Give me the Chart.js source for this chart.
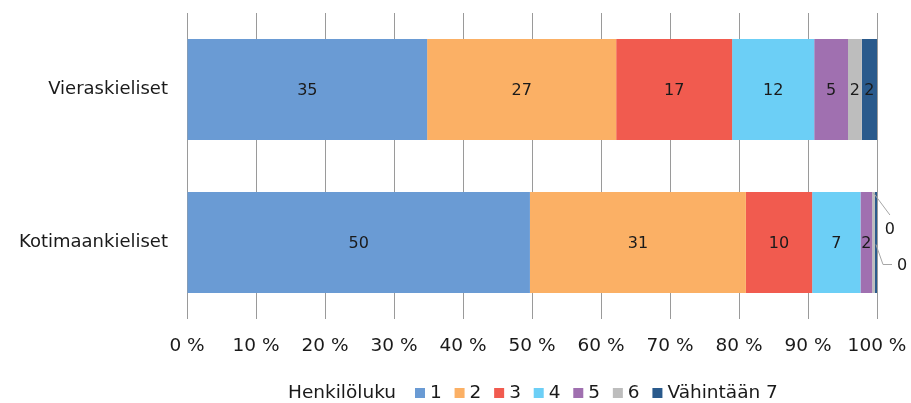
<!DOCTYPE html>
<html><head><meta charset="utf-8">
<script src="https://cdn.jsdelivr.net/npm/chart.js@4/dist/chart.umd.min.js"></script>
<style>html,body{margin:0;padding:0;background:#fff}#wrap{width:911px;height:403px}</style>
</head><body><div id="wrap"><canvas id="c" width="911" height="403"></canvas></div>
<script>
const categories = ['Vieraskieliset', 'Kotimaankieliset'];
const seriesNames = ['1', '2', '3', '4', '5', '6', 'Vähintään 7'];
const s1 = [34.8, 49.7];
const s2 = [27.4, 31.3];
const s3 = [16.8, 9.6];
const s4 = [11.9, 7.0];
const s5 = [4.9, 1.7];
const s6 = [2.0, 0.4];
const s7 = [2.2, 0.3];
const labels1 = [35, 50];
const labels2 = [27, 31];
const labels3 = [17, 10];
const labels4 = [12, 7];
const labels5 = [5, 2];
const labels6 = [2, 0];
const labels7 = [2, 0];
const xTicks = [0, 10, 20, 30, 40, 50, 60, 70, 80, 90, 100];
const legendTitle = 'Henkilöluku';

const colors = ['#6a9bd4', '#fbb065', '#f15b4f', '#6ccff6', '#a070b0', '#bdbdbd', '#2a5a8c'];
const seriesData = [s1, s2, s3, s4, s5, s6, s7];
const seriesLabels = [labels1, labels2, labels3, labels4, labels5, labels6, labels7];
const FONT = '"DejaVu Sans", Verdana, sans-serif';

const datasets = seriesData.map((d, i) => ({
  label: seriesNames[i], data: d, backgroundColor: colors[i],
  borderWidth: 0, barPercentage: 0.66, categoryPercentage: 1.0, labelsText: seriesLabels[i]
}));

const labelPlugin = {
  id: 'labels',
  afterDatasetsDraw(chart) {
    const ctx = chart.ctx;
    ctx.save();
    ctx.font = '16px ' + FONT;
    ctx.fillStyle = '#1a1a1a';
    ctx.textAlign = 'center';
    ctx.textBaseline = 'middle';
    let outsideCount = 0;
    chart.data.datasets.forEach((ds, di) => {
      const meta = chart.getDatasetMeta(di);
      meta.data.forEach((el, i) => {
        const v = ds.data[i];
        const txt = String(ds.labelsText[i]);
        const x0 = el.base, x1 = el.x;
        if (v >= 1) {
          ctx.fillText(txt, (x0 + x1) / 2, el.y + 1);
        } else {
          const top = el.y - el.height / 2;
          ctx.strokeStyle = '#a6a6a6';
          ctx.lineWidth = 1;
          ctx.beginPath();
          if (outsideCount === 0) {
            ctx.moveTo((x0 + x1) / 2, top + 1);
            ctx.lineTo(x1 + 15, top + 23);
            ctx.stroke();
            ctx.fillText(txt, x1 + 15, top + 38);
          } else {
            ctx.moveTo((x0 + x1) / 2, el.y + 2);
            ctx.lineTo(x1 + 6, el.y + 22);
            ctx.lineTo(x1 + 15, el.y + 22);
            ctx.stroke();
            ctx.fillText(txt, x1 + 25, el.y + 23);
          }
          outsideCount++;
        }
      });
    });
    ctx.restore();
  }
};

const legendPlugin = {
  id: 'customLegend',
  afterDraw(chart) {
    const ctx = chart.ctx;
    ctx.save();
    ctx.font = '18.5px ' + FONT;
    ctx.fillStyle = '#1a1a1a';
    ctx.textBaseline = 'middle';
    ctx.textAlign = 'left';
    const y = 393;
    let x = 288;
    ctx.fillText(legendTitle, x, y);
    x = 415;
    chart.data.datasets.forEach((ds) => {
      ctx.fillStyle = ds.backgroundColor;
      ctx.fillRect(x, y - 5, 10, 10);
      ctx.fillStyle = '#1a1a1a';
      ctx.fillText(ds.label, x + 15, y);
      x += 15 + ctx.measureText(ds.label).width + 12.8;
    });
    ctx.restore();
  }
};

new Chart(document.getElementById('c'), {
  type: 'bar',
  data: { labels: categories, datasets },
  options: {
    indexAxis: 'y',
    responsive: false,
    animation: false,
    devicePixelRatio: 1,
    layout: { padding: { top: 13, right: 34, bottom: 0, left: 0 } },
    plugins: { legend: { display: false }, tooltip: { enabled: false } },
    scales: {
      x: {
        stacked: true, min: 0, max: 100,
        afterBuildTicks(axis) { axis.ticks = xTicks.map(v => ({ value: v })); },
        afterFit(axis) { axis.height = 84; axis.paddingLeft = 0; axis.paddingRight = 0; },
        grid: { color: '#9a9a9a', lineWidth: 1, drawTicks: false },
        border: { display: false },
        ticks: { padding: 16, color: '#1a1a1a', font: { family: FONT, size: 18.5 }, callback: v => v + ' %', maxRotation: 0, autoSkip: false }
      },
      y: {
        stacked: true,
        afterFit(axis) { axis.width = 187; axis.paddingTop = 0; axis.paddingBottom = 0; },
        grid: { display: false, drawTicks: false },
        border: { display: false },
        ticks: { padding: 19, color: '#1a1a1a', font: { family: FONT, size: 18 } }
      }
    }
  },
  plugins: [labelPlugin, legendPlugin]
});
</script></body></html>
